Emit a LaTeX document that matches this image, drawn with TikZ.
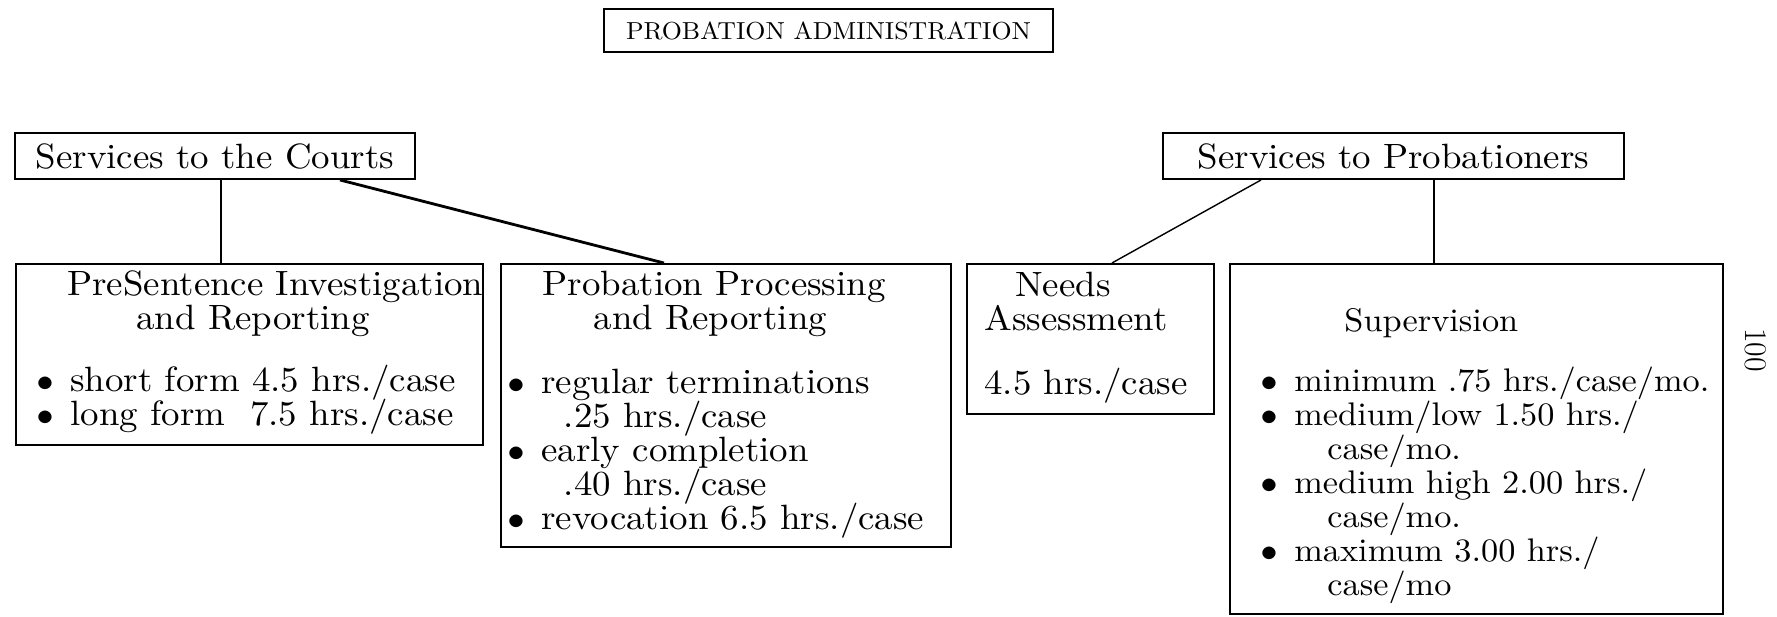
\documentclass[tikz,border=0pt]{standalone}
\usepackage{fontspec}
\usetikzlibrary{positioning,calc}

\newfontfamily\typefont{lmroman10-regular.otf}[FakeStretch=1.05]
\newcommand\boxfont{\typefont\fontsize{20}{19.35}\selectfont\lineskiplimit=-20pt\relax}
\newcommand\supfont{\typefont\fontsize{18.6}{19.35}\selectfont\lineskiplimit=-20pt\relax}
\newcommand\blt{\makebox[24.2pt][l]{\raisebox{-1pt}{\fontsize{25}{0}\selectfont\textbullet}}}

\begin{document}
\begin{tikzpicture}[
  x=0.02cm, y=-0.02cm,
  head/.style={rectangle, draw, line width=1.1pt, inner sep=0pt, font=\boxfont},
  box/.style={rectangle, draw, line width=1.1pt, inner sep=0pt, anchor=north west},
  boxtext/.style={anchor=north west, align=left, inner sep=0pt, font=\boxfont},
  link/.style={line width=1.6pt},
  thinlink/.style={line width=0.8pt}
]
\useasboundingbox (0,0) rectangle (1777,616);

% Title
\node[head, minimum width=8.98cm, minimum height=0.86cm, font=\typefont\fontsize{14}{16}\selectfont] (admin) at (828.5,30.5) {PROBATION ADMINISTRATION};

% Two service groups
\node[head, minimum width=8cm, minimum height=0.92cm] (courts) at (215,156) {Services to the Courts};
\node[head, minimum width=9.22cm, minimum height=0.92cm] (probs) at (1393.5,156) {Services to Probationers};

% Services to the Courts
\node[box, minimum width=9.34cm, minimum height=3.62cm] (psi) at (15,263) {};
\node[boxtext] (psitext) at ([xshift=0.25cm,yshift=-0.15cm]psi.north west)
  {\hspace*{22.5pt}PreSentence Investigation\\
   \hspace*{61.8pt}and Reporting\\[16pt]
   \blt short form 4.5 hrs./case\\
   \blt long form\hspace*{0.36em} 7.5 hrs./case};

\node[box, minimum width=9cm, minimum height=5.66cm] (ppr) at (500,263) {};
\node[boxtext] (pprtext) at ([xshift=-0.03cm,yshift=-0.16cm]ppr.north west)
  {\hspace*{25pt}Probation Processing\\
   \hspace*{54pt}and Reporting\\[17pt]
   \blt regular terminations\\
   \hspace*{37pt}.25 hrs./case\\
   \blt early completion\\
   \hspace*{37pt}.40 hrs./case\\
   \blt revocation 6.5 hrs./case};

% Services to Probationers
\node[box, minimum width=4.94cm, minimum height=3cm] (needs) at (966,263) {};
\node[boxtext] (needstext) at ([xshift=0.36cm,yshift=-0.18cm]needs.north west)
  {\hspace*{17.6pt}Needs\\
   Assessment\\[17pt]
   4.5 hrs./case};

\node[box, minimum width=9.86cm, minimum height=7cm] (sup) at (1229,263) {};
\node[boxtext, font=\supfont] (suptext) at ([xshift=0.45cm,yshift=-0.9cm]sup.north west)
  {\hspace*{52.7pt}Supervision\\[15pt]
   \blt minimum .75 hrs./case/mo.\\
   \blt medium/low 1.50 hrs./\\
   \hspace*{43pt}case/mo.\\
   \blt medium high 2.00 hrs./\\
   \hspace*{43pt}case/mo.\\
   \blt maximum 3.00 hrs./\\
   \hspace*{43pt}case/mo};

% Page number
\node[rotate=-90, font=\fontsize{18}{20}\selectfont] (pageno) at (1756,350) {100};

% Connectors
\draw[link] ([xshift=0.12cm]courts.south) -- ([xshift=0.12cm]courts.south |- psi.north);
\draw[link] ([xshift=2.5cm]courts.south) -- ([xshift=-1.24cm]ppr.north);
\draw[thinlink] ([xshift=-2.65cm]probs.south) -- ([xshift=0.43cm]needs.north);
\draw[link] ([xshift=0.81cm]probs.south) -- ([xshift=0.81cm]probs.south |- sup.north);

\end{tikzpicture}
\end{document}
